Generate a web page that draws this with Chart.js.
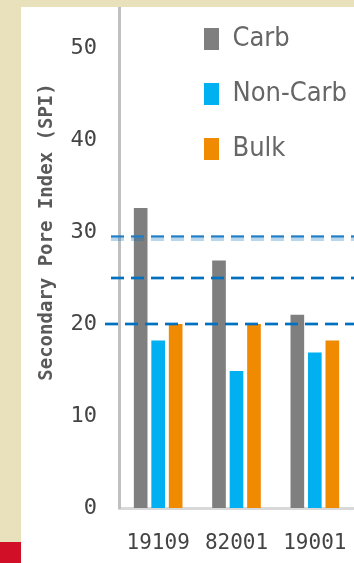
<!DOCTYPE html>
<html>
<head>
<meta charset="utf-8">
<script src="https://cdn.jsdelivr.net/npm/chart.js@4"></script>
<style>
  html, body { margin: 0; padding: 0; background: #ffffff; overflow: hidden; }
  body { width: 354px; height: 563px; position: relative; }
  #moldura-topo { position: absolute; left: 0; top: 0; width: 354px; height: 7px; background: #e8e1bb; z-index: 2; }
  #moldura-lado { position: absolute; left: 0; top: 0; width: 21px; height: 542px; background: #e8e1bb; z-index: 2; }
  #marca { position: absolute; left: 0; top: 542px; width: 21px; height: 21px; background: #d11028; z-index: 2; }
  #grafico-spi { position: absolute; left: 22px; top: -60px; }
</style>
</head>
<body>
<div id="moldura-topo"></div>
<div id="moldura-lado"></div>
<div id="marca"></div>
<canvas id="grafico-spi" width="332" height="640"></canvas>

<script>
// Amostras e índice de poro secundário (SPI) por fração
const amostras = ["19109", "82001", "19001"];
const spiCarb = [32.6, 26.9, 21.0];
const spiNaoCarb = [18.2, 14.9, 16.9];
const spiBulk = [20.0, 20.0, 18.2];

// Escala do eixo Y
const eixoYMin = 0;
const eixoYMax = 60;
const eixoYPasso = 10;

// Níveis de referência (linhas tracejadas)
const niveisReferencia = [29.5, 25, 20];

const corTexto = "#595959";
const corRotulos = "#444444";

// Linhas tracejadas horizontais desenhadas sobre as barras
const linhasReferencia = {
  id: "linhasReferencia",
  afterDatasetsDraw(chart) {
    const { ctx, chartArea, scales } = chart;
    const inicios = [chartArea.left - 8, chartArea.left - 8, chartArea.left - 14];
    ctx.save();
    niveisReferencia.forEach((nivel, i) => {
      const y = Math.round(scales.y.getPixelForValue(nivel));
      const x0 = inicios[i];
      ctx.setLineDash([13, 7]);
      if (i === 0) {
        // primeira linha aparece mais difusa
        ctx.strokeStyle = "rgba(0, 112, 192, 0.28)";
        ctx.lineWidth = 6;
        ctx.beginPath();
        ctx.moveTo(x0, y + 1);
        ctx.lineTo(chartArea.right + 20, y + 1);
        ctx.stroke();
        ctx.strokeStyle = "#1f7ec6";
        ctx.lineWidth = 2;
        ctx.beginPath();
        ctx.moveTo(x0, y - 0.5);
        ctx.lineTo(chartArea.right + 20, y - 0.5);
        ctx.stroke();
      } else {
        ctx.strokeStyle = "rgba(0, 112, 192, 0.35)";
        ctx.lineWidth = 4;
        ctx.beginPath();
        ctx.moveTo(x0, y);
        ctx.lineTo(chartArea.right + 20, y);
        ctx.stroke();
        ctx.strokeStyle = "#0070c0";
        ctx.lineWidth = 2;
        ctx.beginPath();
        ctx.moveTo(x0, y);
        ctx.lineTo(chartArea.right + 20, y);
        ctx.stroke();
      }
    });
    ctx.restore();
  },
};

// Legenda dentro da área do gráfico, no canto superior direito
const posicaoLegenda = {
  id: "posicaoLegenda",
  afterLayout(chart) {
    const legenda = chart.legend;
    if (!legenda) return;
    legenda.left = chart.chartArea.left + 57;
    legenda.top = chart.chartArea.top + 41.5;
  },
};

// sem folga extra para os rótulos: a área do gráfico fica fixa
function semFolga(escala) {
  escala.paddingTop = 0;
  escala.paddingBottom = 0;
  escala.paddingLeft = 0;
  escala.paddingRight = 0;
}

const ctx = document.getElementById("grafico-spi").getContext("2d");

new Chart(ctx, {
  type: "bar",
  data: {
    labels: amostras,
    datasets: [
      { label: "Carb", data: spiCarb, backgroundColor: "#7f7f7f" },
      { label: "Non-Carb", data: spiNaoCarb, backgroundColor: "#00b0f0" },
      { label: "Bulk", data: spiBulk, backgroundColor: "#f08a00" },
    ],
  },
  options: {
    responsive: false,
    animation: false,
    devicePixelRatio: 1,
    categoryPercentage: 0.67,
    barPercentage: 0.78,
    layout: {
      padding: { top: 16, bottom: 12, left: 0, right: 0 },
    },
    plugins: {
      tooltip: { enabled: false },
      legend: {
        position: "chartArea",
        align: "start",
        labels: {
          color: "#666666",
          boxWidth: 15,
          boxHeight: 22,
          padding: 28,
          font: { family: "'Liberation Sans Narrow', 'DejaVu Sans Condensed', 'Liberation Sans', sans-serif", size: 27 },
        },
      },
    },
    scales: {
      x: {
        grid: { display: false, drawTicks: false },
        border: { display: true, color: "#d9d9d9", width: 3 },
        ticks: {
          color: corRotulos,
          padding: 23,
          font: { family: "'DejaVu Sans Mono', monospace", size: 21 },
        },
        afterFit(escala) {
          escala.height = 60;
          semFolga(escala);
        },
      },
      y: {
        min: eixoYMin,
        max: eixoYMax,
        grid: { display: false, drawTicks: false },
        border: { display: true, color: "#c0c0c0", width: 3 },
        ticks: {
          stepSize: eixoYPasso,
          color: corRotulos,
          padding: 22,
          font: { family: "'DejaVu Sans Mono', monospace", size: 22 },
        },
        title: {
          display: true,
          text: "Secondary Pore Index (SPI)",
          color: corTexto,
          padding: { top: 13.6, bottom: 0 },
          font: { family: "'DejaVu Sans Mono', monospace", size: 19, weight: "bold" },
        },
        afterFit(escala) {
          escala.width = 97;
          semFolga(escala);
        },
      },
    },
  },
  plugins: [linhasReferencia, posicaoLegenda],
});
</script>
</body>
</html>
